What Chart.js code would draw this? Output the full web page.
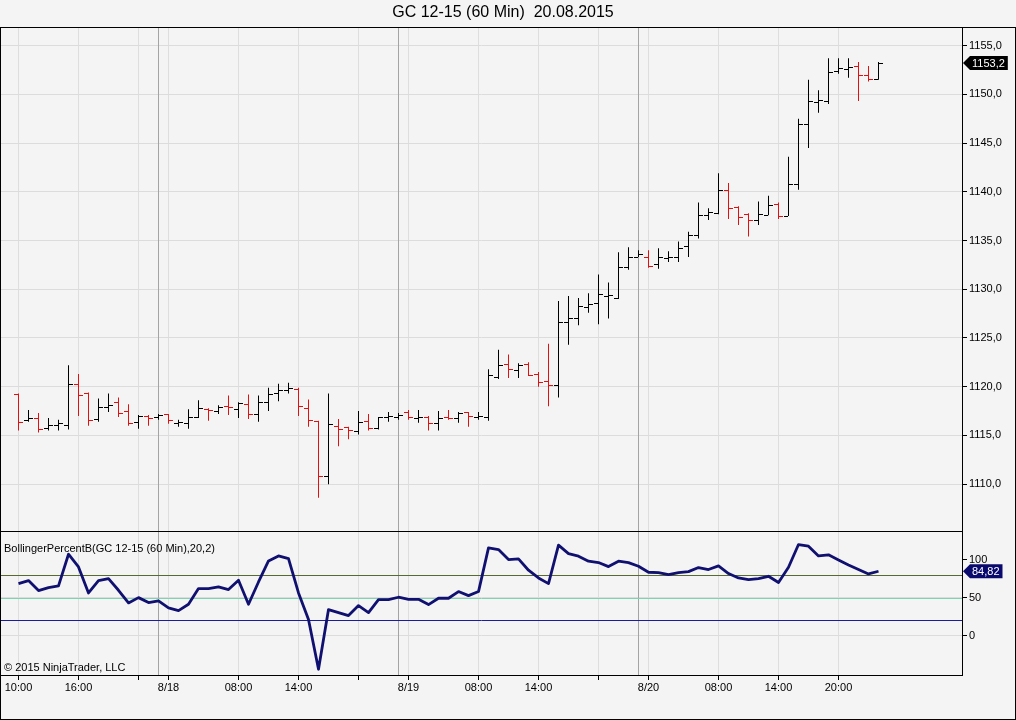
<!DOCTYPE html>
<html>
<head>
<meta charset="utf-8">
<title>GC 12-15 (60 Min) 20.08.2015</title>
<script src="https://cdn.jsdelivr.net/npm/chart.js@4.4.1/dist/chart.umd.min.js"></script>
<style>
    html, body { margin: 0; padding: 0; background: #f4f4f4; }
    #wrap { width: 1016px; height: 720px; }
</style>
</head>
<body>
<div id="wrap"><canvas id="chart" width="1016" height="720"></canvas></div>
<script>
// hourly bars, 8/17 10:00 .. 8/21 00:00 (array position = bar number)
const opens = [
    1119.2, 1116.5, 1116.7, 1115.7, 1116.0, 1116.0, 1120.2, 1119.3, 1116.6, 1117.9,
    1118.4, 1117.5, 1116.3, 1116.9, 1116.8, 1117.2, 1116.2, 1116.2, 1116.8, 1117.7,
    1117.5, 1118.0, 1117.7, 1118.2, 1117.2, 1118.4, 1119.3, 1119.6, 1119.7, 1117.8,
    1116.4, 1110.8, 1115.9, 1115.8, 1115.4, 1116.4, 1115.7, 1116.8, 1116.8, 1117.4,
    1116.7, 1116.8, 1116.2, 1116.8, 1116.7, 1117.4, 1116.8, 1116.8, 1120.9, 1122.3,
    1121.7, 1122.3, 1121.3, 1120.5, 1120.1, 1126.6, 1127.0, 1128.1, 1128.5, 1129.3,
    1129.1, 1132.2, 1133.3, 1133.3, 1132.5, 1133.2, 1133.3, 1134.4, 1135.5, 1137.6,
    1137.8, 1140.1, 1138.4, 1137.7, 1137.1, 1137.6, 1138.7, 1137.5, 1140.7, 1146.9,
    1149.2, 1149.3, 1152.3, 1152.5, 1152.8, 1151.9, 1151.5
];
const highs = [
    1119.3, 1117.6, 1117.3, 1116.8, 1116.6, 1122.2, 1121.3, 1119.4, 1118.8, 1119.3,
    1118.9, 1118.2, 1117.1, 1117.1, 1117.2, 1117.2, 1116.6, 1117.7, 1118.6, 1117.8,
    1118.1, 1119.1, 1118.4, 1119.2, 1119.1, 1119.9, 1120.3, 1120.4, 1119.9, 1118.7,
    1116.5, 1119.3, 1116.7, 1115.9, 1117.5, 1117.2, 1116.9, 1117.4, 1117.3, 1117.6,
    1117.6, 1117.0, 1117.5, 1117.6, 1117.4, 1117.4, 1117.4, 1121.8, 1123.8, 1123.3,
    1122.4, 1122.5, 1121.5, 1124.4, 1128.8, 1129.3, 1129.1, 1129.6, 1131.5, 1130.7,
    1133.8, 1134.3, 1134.0, 1134.0, 1134.2, 1133.9, 1134.9, 1135.9, 1138.9, 1138.3,
    1141.9, 1140.9, 1138.5, 1137.8, 1139.0, 1139.6, 1138.9, 1143.6, 1147.5, 1151.5,
    1150.4, 1153.7, 1153.7, 1153.7, 1153.3, 1152.9, 1153.3
];
const lows = [
    1115.5, 1116.4, 1115.3, 1115.5, 1115.5, 1115.6, 1117.0, 1116.0, 1116.4, 1117.4,
    1116.9, 1116.0, 1115.7, 1116.0, 1116.6, 1116.2, 1115.9, 1115.7, 1116.8, 1116.5,
    1117.2, 1117.1, 1116.8, 1116.7, 1116.4, 1117.5, 1118.5, 1119.3, 1117.0, 1115.9,
    1108.6, 1110.0, 1113.9, 1114.6, 1115.1, 1115.5, 1115.6, 1116.4, 1116.6, 1116.6,
    1116.3, 1115.5, 1115.5, 1116.6, 1116.3, 1115.9, 1116.6, 1116.5, 1120.8, 1120.9,
    1120.9, 1121.1, 1120.0, 1118.0, 1118.9, 1124.3, 1126.3, 1127.6, 1126.4, 1127.0,
    1129.0, 1132.0, 1133.3, 1132.2, 1132.1, 1132.8, 1132.8, 1133.3, 1135.2, 1137.1,
    1137.7, 1137.2, 1136.6, 1135.4, 1136.6, 1137.6, 1137.2, 1137.5, 1140.2, 1144.5,
    1148.1, 1149.0, 1152.1, 1151.7, 1149.3, 1151.3, 1151.5
];
const closes = [
    1116.3, 1116.7, 1115.6, 1116.0, 1116.2, 1120.2, 1119.1, 1116.5, 1117.9, 1118.1,
    1117.3, 1116.2, 1116.9, 1116.7, 1117.0, 1116.5, 1116.3, 1116.8, 1117.8, 1117.6,
    1117.9, 1117.9, 1118.3, 1117.2, 1118.4, 1119.2, 1119.6, 1119.8, 1118.0, 1116.5,
    1110.8, 1116.1, 1115.6, 1115.5, 1116.3, 1115.7, 1116.8, 1116.9, 1117.0, 1116.8,
    1116.8, 1116.2, 1116.7, 1116.7, 1117.3, 1116.9, 1116.9, 1121.1, 1122.2, 1121.8,
    1122.2, 1121.2, 1120.4, 1120.1, 1126.6, 1127.0, 1128.2, 1128.4, 1129.5, 1129.4,
    1132.2, 1133.3, 1133.6, 1132.3, 1133.3, 1133.3, 1134.2, 1135.5, 1137.6, 1137.9,
    1140.1, 1138.3, 1137.4, 1137.1, 1137.7, 1138.6, 1137.5, 1140.7, 1146.9, 1149.3,
    1149.4, 1152.2, 1152.6, 1152.7, 1151.9, 1151.5, 1153.2
];
const percentB = [
    68.5, 72.5, 59.3, 63.3, 65.5, 107.3, 90.6, 56.2, 72.5, 75.1,
    59.7, 43.0, 50.0, 43.4, 45.6, 36.4, 32.9, 41.2, 61.9, 61.9,
    64.1, 60.6, 72.9, 41.2, 70.7, 98.5, 105.1, 101.6, 56.2, 21.0,
    -44.6, 34.2, 30.2, 26.3, 39.5, 30.2, 47.4, 47.4, 50.5, 47.8,
    47.8, 40.8, 49.2, 49.2, 58.0, 52.7, 58.0, 115.7, 113.5, 100.3,
    101.2, 86.2, 76.0, 68.5, 119.3, 108.2, 104.7, 98.1, 96.3, 91.0,
    98.1, 96.3, 91.5, 83.5, 83.1, 80.4, 83.1, 84.4, 89.7, 87.1,
    91.9, 81.8, 76.0, 73.8, 75.1, 78.2, 69.9, 90.1, 120.1, 117.9,
    105.1, 106.5, 99.8, 93.2, 87.1, 81.3, 84.82
];

// time axis: bar numbers that carry a tick, and their labels
const tickBars = [0, 6, 12, 15, 22, 28, 34, 39, 46, 52, 58, 63, 70, 76, 82];
const tickText = ['10:00', '16:00', '', '8/18', '08:00', '14:00', '', '8/19', '08:00', '14:00', '', '8/20', '08:00', '14:00', '20:00'];
const dayBreaks = [14, 38, 62];

const priceTicks = [1110, 1115, 1120, 1125, 1130, 1135, 1140, 1145, 1150, 1155];
const pctTicks = [0, 50, 100];
const pctLevels = [80, 50, 20];
const pctLevelColors = ['#566a32', '#7fd3b2', '#1c1ca0'];

const UP = '#000000';
const DOWN = '#e01010';
const PCT = '#101070';
const FONT = "'Liberation Sans', Arial, sans-serif";

const isUp = i => closes[i] >= opens[i];
const comma = (v, d) => v.toFixed(d).replace('.', ',');

// small open/close tick marks used as point styles
function tickImage(color, side) {
    const c = document.createElement('canvas');
    c.width = 9;
    c.height = 1;
    const g = c.getContext('2d');
    g.fillStyle = color;
    g.fillRect(side === 'left' ? 0 : 5, 0, 4, 1);
    return c;
}
const openUp = tickImage(UP, 'left');
const openDown = tickImage(DOWN, 'left');
const closeUp = tickImage(UP, 'right');
const closeDown = tickImage(DOWN, 'right');

function drawTag(ctx, x, y, text, fill) {
    ctx.font = '11px ' + FONT;
    const w = ctx.measureText(text).width + 5;
    ctx.beginPath();
    ctx.moveTo(x, y);
    ctx.lineTo(x + 7, y - 7);
    ctx.lineTo(x + 7 + w, y - 7);
    ctx.lineTo(x + 7 + w, y + 7);
    ctx.lineTo(x + 7, y + 7);
    ctx.closePath();
    ctx.fillStyle = fill;
    ctx.fill();
    ctx.fillStyle = '#ffffff';
    ctx.textBaseline = 'middle';
    ctx.textAlign = 'left';
    ctx.fillText(text, x + 9, y + 0.5);
}

const panes = {
    id: 'panes',
    beforeDraw(chart) {
        const ctx = chart.ctx;
        ctx.save();
        ctx.fillStyle = '#f4f4f4';
        ctx.fillRect(0, 0, chart.width, chart.height);
        ctx.restore();
    },
    beforeDatasetsDraw(chart) {
        const { ctx, chartArea: area, scales: { x, y2 } } = chart;
        ctx.save();
        ctx.lineWidth = 1;
        ctx.strokeStyle = '#a4a4a4';
        dayBreaks.forEach(b => {
            const px = Math.floor(x.getPixelForValue(b)) + 0.5;
            ctx.beginPath();
            ctx.moveTo(px, area.top);
            ctx.lineTo(px, area.bottom);
            ctx.stroke();
        });
        pctLevels.forEach((lvl, k) => {
            const py = Math.round(y2.getPixelForValue(lvl)) + 0.5;
            ctx.strokeStyle = pctLevelColors[k];
            ctx.beginPath();
            ctx.moveTo(area.left, py);
            ctx.lineTo(area.right, py);
            ctx.stroke();
        });
        ctx.restore();
    },
    afterDraw(chart) {
        const { ctx, chartArea: area, scales: { y, y2 } } = chart;
        ctx.save();
        ctx.strokeStyle = '#000';
        ctx.lineWidth = 1;
        const sep = Math.round(y.bottom) + 0.5;
        ctx.beginPath();
        ctx.moveTo(0, sep);
        ctx.lineTo(area.right, sep);
        ctx.stroke();
        ctx.strokeRect(0.5, Math.round(area.top) + 0.5, chart.width - 1, chart.height - Math.round(area.top) - 1);

        ctx.fillStyle = '#000';
        ctx.font = '11px ' + FONT;
        ctx.textBaseline = 'middle';
        ctx.textAlign = 'left';
        ctx.fillText('BollingerPercentB(GC 12-15 (60 Min),20,2)', 4, y2.top + 18);
        ctx.fillText('\u00a9 2015 NinjaTrader, LLC', 4, y2.bottom - 7);

        const last = closes.length - 1;
        drawTag(ctx, area.right + 1, y.getPixelForValue(closes[last]), comma(closes[last], 1), '#000000');
        drawTag(ctx, area.right + 1, y2.getPixelForValue(percentB[last]), comma(percentB[last], 2), '#0a0a6e');
        ctx.restore();
    }
};

const axisFont = { family: FONT, size: 11 };

new Chart(document.getElementById('chart'), {
    type: 'bar',
    data: {
        datasets: [
            {
                type: 'line',
                data: percentB.map((v, i) => ({ x: i, y: v })),
                yAxisID: 'y2',
                borderColor: PCT,
                borderWidth: 2.8,
                borderJoinStyle: 'round',
                pointRadius: 0,
                tension: 0
            },
            {
                type: 'bar',
                data: highs.map((h, i) => ({ x: i, y: [lows[i], h] })),
                yAxisID: 'y',
                backgroundColor: ctx => isUp(ctx.dataIndex) ? UP : DOWN,
                barThickness: 1,
                borderWidth: 0,
                inflateAmount: 0,
                grouped: false
            },
            {
                type: 'scatter',
                data: opens.map((o, i) => ({ x: i, y: o })),
                yAxisID: 'y',
                showLine: false,
                pointRadius: 4,
                pointStyle: ctx => isUp(ctx.dataIndex) ? openUp : openDown
            },
            {
                type: 'scatter',
                data: closes.map((c, i) => ({ x: i, y: c })),
                yAxisID: 'y',
                showLine: false,
                pointRadius: 4,
                pointStyle: ctx => isUp(ctx.dataIndex) ? closeUp : closeDown
            }
        ]
    },
    options: {
        responsive: false,
        devicePixelRatio: 1,
        animation: false,
        events: [],
        // right padding keeps the title centred where the original has it
        layout: { autoPadding: false, padding: { left: 1, right: 11, top: 0, bottom: 0 } },
        plugins: {
            legend: { display: false },
            tooltip: { enabled: false },
            title: {
                display: true,
                text: 'GC 12-15 (60 Min)  20.08.2015',
                color: '#000',
                font: { family: FONT, size: 16, weight: 'normal' },
                padding: { top: 3, bottom: 4.8 }
            }
        },
        scales: {
            x: {
                type: 'linear',
                min: -1.75,
                max: 94.35,
                offset: false,
                afterBuildTicks: axis => { axis.ticks = tickBars.map(v => ({ value: v })); },
                afterFit: axis => {
                    axis.height = 45;
                    axis.paddingLeft = 0;
                    axis.paddingRight = 0;
                },
                grid: { offset: false, color: '#dedede', tickColor: '#000', tickLength: 5 },
                border: { color: '#000' },
                ticks: {
                    autoSkip: false,
                    maxRotation: 0,
                    padding: 1,
                    color: '#000',
                    font: axisFont,
                    callback: v => tickText[tickBars.indexOf(v)]
                }
            },
            y: {
                type: 'linear',
                position: 'right',
                stack: 'panes',
                stackWeight: 504,
                min: 1105.2,
                max: 1156.9,
                afterBuildTicks: axis => { axis.ticks = priceTicks.map(v => ({ value: v })); },
                afterFit: axis => { axis.width = 43; },
                grid: { color: '#dcdcdc', tickColor: '#000', tickLength: 5 },
                border: { color: '#000' },
                ticks: { padding: 2, color: '#000', font: axisFont, callback: v => comma(v, 1) }
            },
            y2: {
                type: 'linear',
                position: 'right',
                stack: 'panes',
                stackWeight: 144,
                min: -52.2,
                max: 138,
                afterBuildTicks: axis => { axis.ticks = pctTicks.map(v => ({ value: v })); },
                afterFit: axis => { axis.width = 43; },
                grid: {
                    color: ctx => ctx.tick && ctx.tick.value === 100 ? 'rgba(0,0,0,0)' : '#dcdcdc',
                    tickColor: '#000',
                    tickLength: 5
                },
                border: { color: '#000' },
                ticks: { padding: 2, color: '#000', font: axisFont, callback: v => String(v) }
            }
        }
    },
    plugins: [panes]
});
</script>
</body>
</html>
